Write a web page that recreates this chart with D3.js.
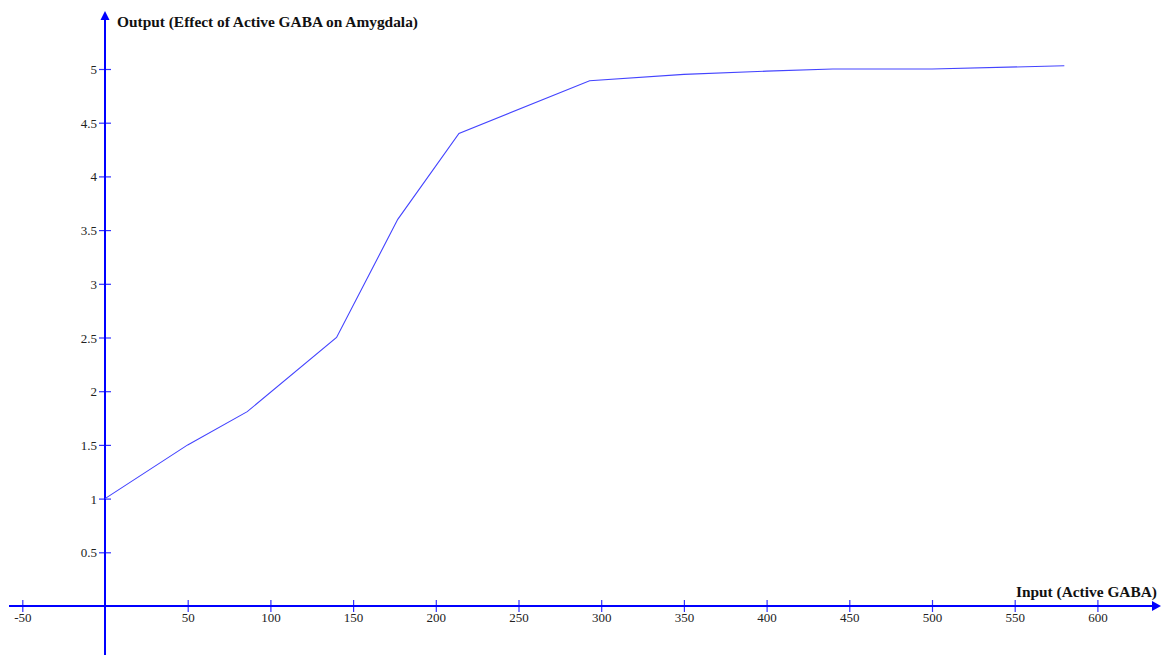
<!DOCTYPE html>
<html>
<head>
<meta charset="utf-8">
<script src="https://cdn.jsdelivr.net/npm/d3@7"></script>
<style>
  html, body { margin: 0; padding: 0; background: #fff; }
  svg { display: block; }
  text { font-family: "Liberation Serif", "Times New Roman", serif; }
</style>
</head>
<body>
<svg id="chart" width="1161" height="655"></svg>
<script>
// ---- Data ----
const inputValues  = [0, 50, 86, 140, 177, 214, 293, 350, 400, 440, 500, 580];
const outputValues = [1, 1.5, 1.81, 2.5, 3.6, 4.4, 4.89, 4.95, 4.98, 5.0, 5.0, 5.03];
const xTickValues = [-50, 50, 100, 150, 200, 250, 300, 350, 400, 450, 500, 550, 600];
const yTickValues = [0.5, 1, 1.5, 2, 2.5, 3, 3.5, 4, 4.5, 5];
const xTitle = "Input (Active GABA)";
const yTitle = "Output (Effect of Active GABA on Amygdala)";

const svg = d3.select("#chart");
const W = 1161, H = 655;

const x = d3.scaleLinear().domain([0, 600]).range([105, 1097.4]);
const y = d3.scaleLinear().domain([0, 5]).range([606, 69]);

const axisColor = "#0000ff";

// X axis
const xAxis = d3.axisBottom(x).tickValues(xTickValues).tickSize(0).tickPadding(0)
  .tickFormat(d => String(d));
const gx = svg.append("g").attr("transform", `translate(0,${y(0)})`).call(xAxis);
gx.select(".domain").remove();
gx.selectAll(".tick line").remove();
gx.selectAll(".tick")
  .append("line")
  .attr("y1", -6).attr("y2", 6)
  .attr("stroke", "#3333ff").attr("stroke-width", 1.2);
gx.selectAll(".tick text")
  .attr("y", 16).attr("dy", 0)
  .attr("fill", "#222")
  .style("font-size", "13px")
  .style("font-family", "Liberation Serif, serif");
gx.append("line")
  .attr("x1", 9).attr("x2", W - 6)
  .attr("stroke", axisColor).attr("stroke-width", 2);
gx.append("path")
  .attr("d", `M${W},0 L${W - 9},-5 L${W - 9},5 Z`)
  .attr("fill", axisColor);

// Y axis
const yAxis = d3.axisLeft(y).tickValues(yTickValues).tickSize(0).tickPadding(0)
  .tickFormat(d => String(d));
const gy = svg.append("g").attr("transform", `translate(${x(0)},0)`).call(yAxis);
gy.select(".domain").remove();
gy.selectAll(".tick line").remove();
gy.selectAll(".tick")
  .append("line")
  .attr("x1", -6).attr("x2", 6)
  .attr("stroke", "#3333ff").attr("stroke-width", 1.2);
gy.selectAll(".tick text")
  .attr("x", -8).attr("dy", "0.35em")
  .attr("fill", "#222")
  .style("font-size", "13px")
  .style("font-family", "Liberation Serif, serif");
gy.append("line")
  .attr("y1", 18).attr("y2", H)
  .attr("stroke", axisColor).attr("stroke-width", 2);
gy.append("path")
  .attr("d", `M0,11 L-4.5,20 L4.5,20 Z`)
  .attr("fill", axisColor);

// Titles
svg.append("text")
  .attr("x", 117).attr("y", 27)
  .attr("font-weight", "bold")
  .style("font-size", "15.4px")
  .attr("fill", "#111")
  .text(yTitle);
svg.append("text")
  .attr("x", 1157).attr("y", 597)
  .attr("text-anchor", "end")
  .attr("font-weight", "bold")
  .style("font-size", "15.4px")
  .attr("fill", "#111")
  .text(xTitle);

// Line
const data = inputValues.map((v, i) => ({ x: v, y: outputValues[i] }));
const line = d3.line().x(d => x(d.x)).y(d => y(d.y));
svg.append("path")
  .datum(data)
  .attr("d", line)
  .attr("fill", "none")
  .attr("stroke", "#4444ff")
  .attr("stroke-width", 1.1);
</script>
</body>
</html>
